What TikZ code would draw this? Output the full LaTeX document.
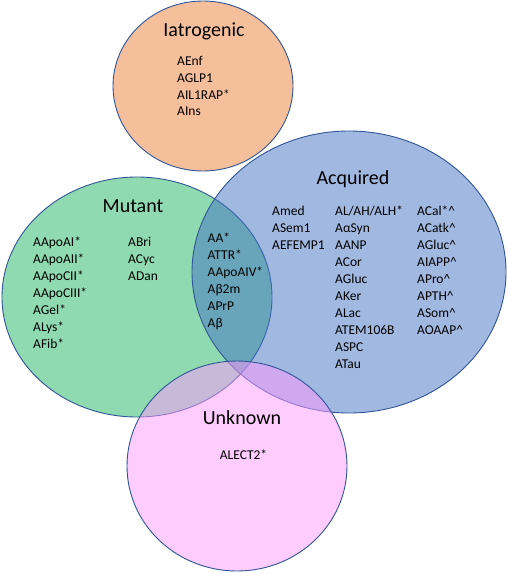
\documentclass[tikz,border=0pt]{standalone}
\usepackage{fontspec}
\setmainfont{Carlito}
\usepackage{xcolor}
\definecolor{iatroorange}{HTML}{F6BF9C}
\definecolor{mutantgreen}{HTML}{8FDAB0}
\definecolor{acquiredblue}{HTML}{4472C4}
\definecolor{unknownpink}{HTML}{FF99FF}
\definecolor{setline}{HTML}{2F5597}
\tikzset{
    set-circle/.style = {draw=setline, line width=0.9pt},
    set-title/.style = {anchor=base, inner sep=0pt, font=\fontsize{20}{24}\selectfont},
    set-item/.style = {anchor=base west, inner sep=0pt, font=\fontsize{13.5}{17}\selectfont},
}

\begin{document}
\begin{tikzpicture}[x=1pt, y=-1pt]
\useasboundingbox (0,0) rectangle (507,573);
% the four sets
\draw[set-circle, fill=iatroorange] (203,86) ellipse [x radius=90, y radius=85];
\draw[set-circle, fill=mutantgreen] (137,297) ellipse [x radius=135, y radius=120];
\draw[set-circle, fill=acquiredblue, fill opacity=0.5] (349,272) ellipse [x radius=157, y radius=141];
\draw[set-circle, fill=unknownpink, fill opacity=0.5] (237,466) ellipse [x radius=110, y radius=105];
% titles
\node[set-title] (iatro-title) at (204,36) {Iatrogenic};
\node[set-title] (mutant-title) at (133,212) {Mutant};
\node[set-title] (acquired-title) at (353,184) {Acquired};
\node[set-title] (unknown-title) at (242,424) {Unknown};
% members
\foreach \t [count=\i from 0] in {AEnf, AGLP1, AIL1RAP*, AIns}
    \node[set-item] (iatro-\i) at (177,65.5+16.8*\i) {\t};
\foreach \t [count=\i from 0] in {AApoAI*, AApoAII*, AApoCII*, AApoCIII*, AGel*, ALys*, AFib*}
    \node[set-item] (mutant-a\i) at (33,246+17*\i) {\t};
\foreach \t [count=\i from 0] in {ABri, ACyc, ADan}
    \node[set-item] (mutant-b\i) at (128,246+17*\i) {\t};
\foreach \t [count=\i from 0] in {AA*, ATTR*, AApoAIV*, Aβ2m, APrP, Aβ}
    \node[set-item] (both-\i) at (207.5,242+17*\i) {\t};
\foreach \t [count=\i from 0] in {Amed, ASem1, AEFEMP1}
    \node[set-item] (acquired-a\i) at (272,215+17*\i) {\t};
\foreach \t [count=\i from 0] in {AL/AH/ALH*, AαSyn, AANP, ACor, AGluc, AKer, ALac, ATEM106B, ASPC, ATau}
    \node[set-item] (acquired-b\i) at (335,215+17*\i) {\t};
\foreach \t [count=\i from 0] in {ACal*\textasciicircum, ACatk\textasciicircum, AGluc\textasciicircum, AIAPP\textasciicircum, APro\textasciicircum, APTH\textasciicircum, ASom\textasciicircum, AOAAP\textasciicircum}
    \node[set-item] (acquired-c\i) at (417,215+17*\i) {\t};
\node[set-item, anchor=base] (unknown-0) at (243.5,459) {ALECT2*};
\end{tikzpicture}
\end{document}
